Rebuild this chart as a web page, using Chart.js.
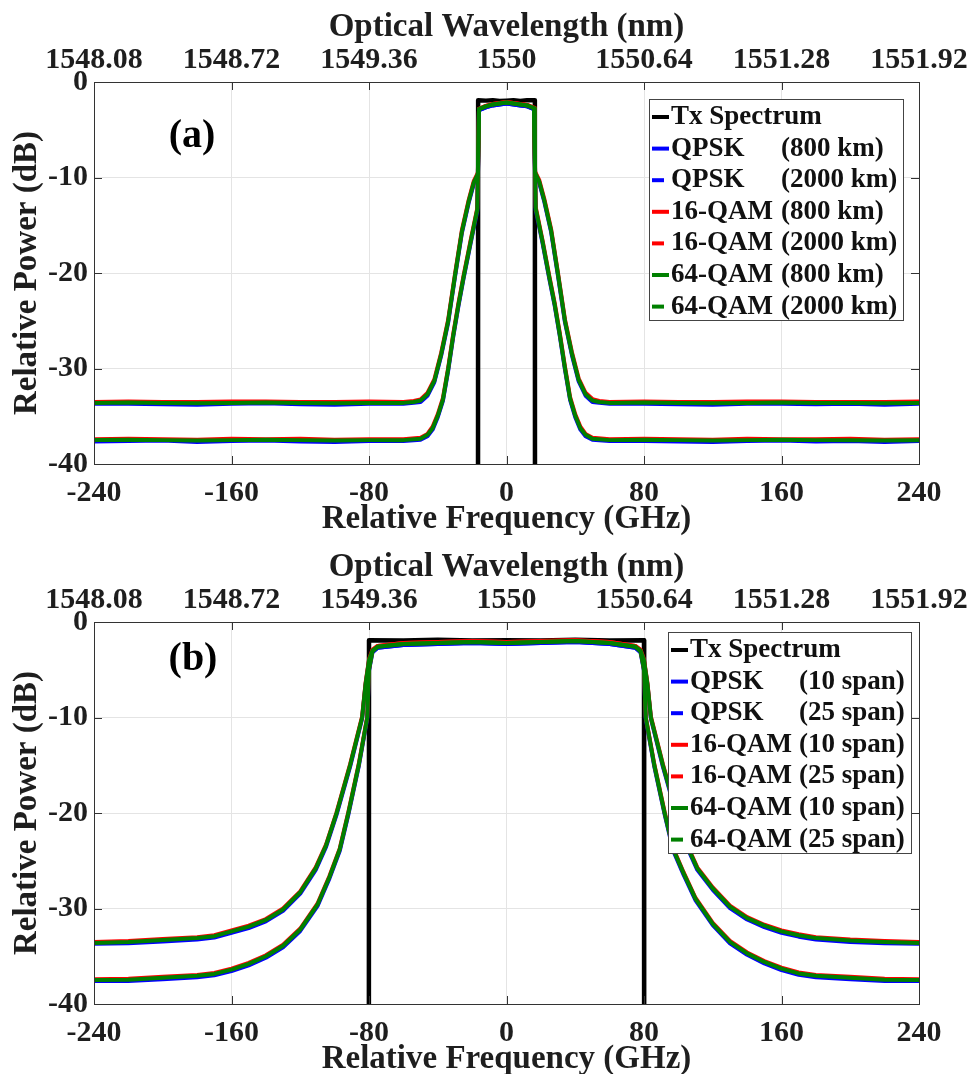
<!DOCTYPE html>
<html>
<head>
<meta charset="utf-8">
<title>Spektrum Optik</title>
<script src="https://cdn.jsdelivr.net/npm/chart.js@4.4.1/dist/chart.umd.min.js"></script>
<style>
  body { margin: 0; background: #fff; }
  .panel { position: relative; width: 972px; height: 537px; }
  canvas { display: block; }
</style>
</head>
<body>
<div class="panel"><canvas id="grafik-a" width="972" height="537"></canvas></div>
<div class="panel"><canvas id="grafik-b" width="972" height="537"></canvas></div>
<script>
// Label sumbu atas (panjang gelombang, nm)
const labelPanjangGelombang = ['1548.08', '1548.72', '1549.36', '1550', '1550.64', '1551.28', '1551.92'];

// Nama sinyal untuk legend
const namaSinyal = ['Tx Spectrum', 'QPSK', 'QPSK', '16-QAM', '16-QAM', '64-QAM', '64-QAM'];
const jarakA = ['', '(800 km)', '(2000 km)', '(800 km)', '(2000 km)', '(800 km)', '(2000 km)'];
const jarakB = ['', '(10 span)', '(25 span)', '(10 span)', '(25 span)', '(10 span)', '(25 span)'];

// ---- Panel (a) ----
const frekTxA = [-240, -16.6, -16.5, -12, -8, -4, 0, 4, 8, 12, 16.5, 16.6, 240];
const txA = [-60, -60, -1.9, -1.95, -1.9, -2.0, -1.95, -1.9, -2.0, -1.9, -1.9, -60, -60];

const frekA800 = [-240, -220, -200, -180, -160, -140, -120, -100, -80, -60,
  -50, -46, -43, -40, -37, -34, -31, -28, -25, -21,
  -17, -16.5, -16, -12, -8, -4, 0, 4, 8, 12,
  16, 16.5, 17, 21, 25, 28, 31, 34, 37, 40,
  43, 46, 50, 60, 80, 100, 120, 140, 160, 180,
  200, 220, 240];
const qpskA800 = [-37.65, -37.6, -37.55, -37.7, -37.6, -37.55, -37.65, -37.7, -37.6, -37.6,
  -37.45, -37.1, -36.4, -35.1, -33.4, -30.3, -26.7, -23.5, -20.6, -17.0,
  -13.5, -8.1, -2.95, -2.65, -2.45, -2.35, -2.25, -2.35, -2.45, -2.55,
  -2.85, -8.1, -13.4, -16.9, -20.7, -23.4, -26.6, -30.1, -33.3, -35.1,
  -36.4, -37.1, -37.45, -37.6, -37.6, -37.65, -37.7, -37.6, -37.55, -37.65,
  -37.6, -37.7, -37.6];
const qam16A800 = [-37.4, -37.35, -37.4, -37.45, -37.35, -37.4, -37.35, -37.45, -37.4, -37.4,
  -37.25, -36.85, -36.1, -34.8, -33.1, -30.0, -26.4, -23.2, -20.3, -16.7,
  -13.2, -7.9, -2.8, -2.5, -2.3, -2.2, -2.1, -2.2, -2.3, -2.4,
  -2.7, -7.9, -13.1, -16.6, -20.4, -23.1, -26.3, -29.8, -33.0, -34.8,
  -36.1, -36.85, -37.25, -37.4, -37.35, -37.4, -37.45, -37.35, -37.4, -37.4,
  -37.35, -37.45, -37.4];
const qam64A800 = [-37.5, -37.45, -37.5, -37.55, -37.5, -37.45, -37.5, -37.55, -37.5, -37.5,
  -37.35, -36.95, -36.25, -34.95, -33.25, -30.15, -26.55, -23.35, -20.45, -16.85,
  -13.35, -8.0, -2.85, -2.55, -2.35, -2.25, -2.15, -2.25, -2.35, -2.45,
  -2.75, -8.0, -13.25, -16.75, -20.55, -23.25, -26.45, -29.95, -33.15, -34.95,
  -36.25, -36.95, -37.35, -37.5, -37.45, -37.5, -37.55, -37.5, -37.45, -37.5,
  -37.5, -37.55, -37.5];

const frekA2000 = [-240, -220, -200, -180, -160, -140, -120, -100, -80, -60,
  -54, -50, -46, -42, -38, -34, -30, -26, -22, -19,
  -16.6, -16, -12, -8, -4, 0, 4, 8, 12, 16,
  16.6, 19, 22, 26, 30, 34, 38, 42, 46, 50,
  54, 60, 80, 100, 120, 140, 160, 180, 200, 220,
  240];
const qpskA2000 = [-33.7, -33.7, -33.75, -33.8, -33.7, -33.65, -33.75, -33.8, -33.7, -33.7,
  -33.6, -33.5, -32.85, -31.45, -28.65, -25.25, -20.45, -15.85, -12.65, -10.65,
  -9.7, -2.95, -2.65, -2.45, -2.35, -2.25, -2.35, -2.45, -2.55, -2.85,
  -9.6, -10.55, -12.55, -15.75, -20.35, -25.15, -28.55, -31.35, -32.85, -33.5,
  -33.6, -33.7, -33.7, -33.75, -33.8, -33.7, -33.7, -33.75, -33.7, -33.8,
  -33.7];
const qam16A2000 = [-33.5, -33.45, -33.5, -33.5, -33.45, -33.45, -33.5, -33.5, -33.45, -33.5,
  -33.4, -33.25, -32.55, -31.15, -28.35, -24.95, -20.15, -15.55, -12.35, -10.35,
  -9.5, -2.8, -2.5, -2.3, -2.2, -2.1, -2.2, -2.3, -2.4, -2.7,
  -9.4, -10.25, -12.25, -15.45, -20.05, -24.85, -28.25, -31.05, -32.55, -33.2,
  -33.4, -33.5, -33.45, -33.5, -33.5, -33.45, -33.45, -33.5, -33.5, -33.5,
  -33.45];
const qam64A2000 = [-33.6, -33.55, -33.6, -33.65, -33.6, -33.55, -33.6, -33.65, -33.6, -33.6,
  -33.5, -33.35, -32.7, -31.3, -28.5, -25.1, -20.3, -15.7, -12.5, -10.5,
  -9.6, -2.85, -2.55, -2.35, -2.25, -2.15, -2.25, -2.35, -2.45, -2.75,
  -9.5, -10.4, -12.4, -15.6, -20.2, -25.0, -28.4, -31.2, -32.7, -33.35,
  -33.5, -33.6, -33.55, -33.6, -33.65, -33.6, -33.55, -33.6, -33.6, -33.65,
  -33.6];

// ---- Panel (b) ----
const frekTxB = [-240, -80.1, -80, -60, -40, -20, 0, 20, 40, 60, 80, 80.1, 240];
const txB = [-60, -60, -1.9, -1.95, -1.85, -1.95, -1.9, -1.95, -1.85, -1.95, -1.9, -60, -60];

const frekB10 = [-240, -220, -200, -180, -170, -160, -150, -140, -130, -120,
  -110, -103, -97, -92, -86, -81, -80, -78, -75, -60,
  -40, -20, 0, 20, 40, 60, 75, 78, 80, 81,
  86, 92, 97, 103, 110, 120, 130, 140, 150, 160,
  170, 180, 200, 220, 240];
const qpskB10 = [-37.6, -37.6, -37.4, -37.2, -37.0, -36.55, -35.95, -35.15, -34.05, -32.35,
  -29.75, -26.85, -23.95, -20.15, -15.15, -10.1, -5.1, -3.2, -2.7, -2.4,
  -2.3, -2.2, -2.3, -2.2, -2.1, -2.3, -2.7, -3.2, -5.1, -10.1,
  -15.15, -20.15, -23.95, -26.45, -29.15, -31.75, -33.65, -34.85, -35.75, -36.45,
  -36.95, -37.2, -37.4, -37.6, -37.6];
const qam16B10 = [-37.4, -37.35, -37.15, -36.95, -36.75, -36.3, -35.7, -34.9, -33.8, -32.1,
  -29.5, -26.6, -23.7, -19.9, -14.9, -9.9, -4.9, -3.0, -2.5, -2.2,
  -2.1, -2.0, -2.1, -2.0, -1.9, -2.1, -2.5, -3.0, -4.9, -9.9,
  -14.9, -19.9, -23.7, -26.2, -28.9, -31.5, -33.4, -34.6, -35.5, -36.2,
  -36.7, -36.95, -37.15, -37.35, -37.4];
const qam64B10 = [-37.5, -37.45, -37.25, -37.05, -36.85, -36.4, -35.8, -35.0, -33.9, -32.2,
  -29.6, -26.7, -23.8, -20.0, -15.0, -10.0, -5.0, -3.1, -2.6, -2.3,
  -2.2, -2.1, -2.2, -2.1, -2.0, -2.2, -2.6, -3.1, -5.0, -10.0,
  -15.0, -20.0, -23.8, -26.3, -29.0, -31.6, -33.5, -34.7, -35.6, -36.3,
  -36.8, -37.05, -37.25, -37.45, -37.5];

const frekB25 = [-240, -220, -200, -180, -170, -160, -150, -140, -130, -120,
  -111, -105, -99, -91, -84, -82, -80, -78, -75, -60,
  -40, -20, 0, 20, 40, 60, 75, 78, 80, 82,
  84, 91, 99, 105, 111, 120, 130, 140, 150, 160,
  170, 180, 200, 220, 240];
const qpskB25 = [-33.7, -33.65, -33.45, -33.25, -33.05, -32.55, -32.05, -31.35, -30.25, -28.45,
  -25.95, -23.55, -20.25, -15.15, -10.1, -6.6, -4.1, -3.1, -2.7, -2.4,
  -2.3, -2.2, -2.3, -2.2, -2.1, -2.3, -2.7, -3.1, -4.1, -6.6,
  -10.1, -15.15, -20.25, -23.55, -25.95, -28.05, -29.95, -31.15, -31.95, -32.55,
  -32.95, -33.25, -33.5, -33.65, -33.7];
const qam16B25 = [-33.5, -33.4, -33.2, -33.0, -32.8, -32.3, -31.8, -31.1, -30.0, -28.2,
  -25.7, -23.3, -20.0, -14.9, -9.9, -6.4, -3.9, -2.9, -2.5, -2.2,
  -2.1, -2.0, -2.1, -2.0, -1.9, -2.1, -2.5, -2.9, -3.9, -6.4,
  -9.9, -14.9, -20.0, -23.3, -25.7, -27.8, -29.7, -30.9, -31.7, -32.3,
  -32.7, -33.0, -33.25, -33.4, -33.5];
const qam64B25 = [-33.6, -33.5, -33.3, -33.1, -32.9, -32.4, -31.9, -31.2, -30.1, -28.3,
  -25.8, -23.4, -20.1, -15.0, -10.0, -6.5, -4.0, -3.0, -2.6, -2.3,
  -2.2, -2.1, -2.2, -2.1, -2.0, -2.2, -2.6, -3.0, -4.0, -6.5,
  -10.0, -15.0, -20.1, -23.4, -25.8, -27.9, -29.8, -31.0, -31.8, -32.4,
  -32.8, -33.1, -33.35, -33.5, -33.6];

// Gaya garis (bukan data)
const warnaSinyal = ['#000000', '#0000ff', '#0000ff', '#ff0000', '#ff0000', '#008000', '#008000'];
const hurufSerif = '"Liberation Serif", "Times New Roman", serif';
const warnaTeks = '#1e1e1e';

function titik(frek, nilai) {
  return frek.map((f, i) => ({ x: f, y: nilai[i] }));
}

// Plugin untuk bingkai, tick di dalam, label panel dan legend
const pluginBingkai = {
  id: 'bingkai',
  afterDatasetsDraw(chart, args, opts) {
    const { ctx, chartArea: a, scales } = chart;
    ctx.save();
    ctx.strokeStyle = '#333';
    ctx.lineWidth = 1;
    const garis = (x1, y1, x2, y2) => {
      ctx.beginPath(); ctx.moveTo(x1, y1); ctx.lineTo(x2, y2); ctx.stroke();
    };
    scales.x.ticks.forEach((t) => {
      const px = Math.round(scales.x.getPixelForValue(t.value)) + 0.5;
      garis(px, a.bottom, px, a.bottom - 8);
      garis(px, a.top, px, a.top + 8);
    });
    scales.y.ticks.forEach((t) => {
      const py = Math.round(scales.y.getPixelForValue(t.value)) + 0.5;
      garis(a.left, py, a.left + 8, py);
      garis(a.right, py, a.right - 8, py);
    });
    ctx.strokeRect(Math.round(a.left) + 0.5, Math.round(a.top) + 0.5, Math.round(a.width), Math.round(a.height));

    // Label panel (a)/(b)
    ctx.fillStyle = '#000';
    ctx.font = 'bold 40px ' + hurufSerif;
    ctx.textAlign = 'center';
    ctx.textBaseline = 'middle';
    ctx.fillText(opts.panel, opts.panelX, opts.panelY);

    // Legend di dalam area plot
    const L = opts.legend;
    ctx.fillStyle = '#fff';
    ctx.fillRect(L.x, L.y, L.w, L.h);
    ctx.strokeStyle = '#444';
    ctx.strokeRect(L.x + 0.5, L.y + 0.5, L.w, L.h);
    ctx.font = 'bold 27px ' + hurufSerif;
    ctx.textAlign = 'left';
    chart.data.datasets.forEach((ds, i) => {
      const y = L.y + 18 + i * L.jarak;
      ctx.strokeStyle = ds.borderColor;
      ctx.lineWidth = 4;
      const panjang = (i > 0 && i % 2 === 0) ? 12 : 17;
      garis(L.x + 3, y, L.x + 3 + panjang, y);
      ctx.fillStyle = '#111';
      ctx.fillText(ds.nama, L.x + 22, y);
      if (ds.jarakTeks) ctx.fillText(ds.jarakTeks, L.x + L.kolom, y);
    });
    ctx.restore();
  }
};

function buatGrafik(idCanvas, seri, jarak, atur) {
  const canvas = document.getElementById(idCanvas);
  if (!canvas) {
    console.error('Canvas tidak ditemukan:', idCanvas);
    return;
  }
  const datasets = seri.map((s, i) => ({
    label: namaSinyal[i] + ' ' + jarak[i],
    nama: namaSinyal[i],
    jarakTeks: jarak[i],
    data: titik(s[0], s[1]),
    borderColor: warnaSinyal[i],
    backgroundColor: warnaSinyal[i],
    borderWidth: i === 0 ? 4.5 : 4,
    pointRadius: 0,
    tension: 0,
    fill: false,
    borderJoinStyle: 'round',
    order: 7 - i
  }));

  const fontTick = { family: hurufSerif, weight: 'bold', size: 30 };
  const fontJudul = { family: hurufSerif, weight: 'bold', size: 33 };
  const warnaGrid = '#e4e4e4';

  new Chart(canvas.getContext('2d'), {
    type: 'line',
    data: { datasets: datasets },
    options: {
      responsive: false,
      animation: false,
      events: [],
      layout: { padding: { left: 0, right: 53, top: 0, bottom: 0 } },
      plugins: {
        legend: { display: false },
        tooltip: { enabled: false },
        bingkai: atur
      },
      scales: {
        x: {
          type: 'linear', position: 'bottom', min: -240, max: 240,
          ticks: { stepSize: 80, padding: 11, autoSkip: false, maxRotation: 0, color: warnaTeks, font: fontTick },
          grid: { color: warnaGrid, drawTicks: false },
          border: { display: false },
          title: { display: true, text: 'Relative Frequency (GHz)', color: warnaTeks, font: fontJudul, padding: { top: 0, bottom: atur.judulBawah } },
          afterFit: (s) => { s.height = atur.tinggiBawah; }
        },
        x2: {
          type: 'linear', position: 'top', min: -240, max: 240,
          ticks: {
            stepSize: 80, padding: 4, autoSkip: false, maxRotation: 0, color: warnaTeks, font: fontTick,
            callback: (v) => labelPanjangGelombang[Math.round((v + 240) / 80)]
          },
          grid: { display: false, drawTicks: false },
          border: { display: false },
          title: { display: true, text: 'Optical Wavelength (nm)', color: warnaTeks, font: fontJudul, padding: { top: atur.judulAtas, bottom: 0 } },
          afterFit: (s) => { s.height = atur.tinggiAtas; }
        },
        y: {
          min: -40, max: 0,
          ticks: { stepSize: 10, padding: 6, color: warnaTeks, font: fontTick },
          grid: { color: warnaGrid, drawTicks: false },
          border: { display: false },
          title: { display: true, text: 'Relative Power (dB)', color: warnaTeks, font: fontJudul, padding: { top: 8, bottom: 0 } },
          afterFit: (s) => { s.width = 94; }
        }
      }
    },
    plugins: [pluginBingkai]
  });
}

document.addEventListener('DOMContentLoaded', () => {
  try {
    buatGrafik('grafik-a', [
      [frekTxA, txA], [frekA800, qpskA800], [frekA2000, qpskA2000],
      [frekA800, qam16A800], [frekA2000, qam16A2000],
      [frekA800, qam64A800], [frekA2000, qam64A2000]
    ], jarakA, {
      panel: '(a)', panelX: 192, panelY: 137,
      legend: { x: 649, y: 99, w: 254, h: 221, jarak: 31.6, kolom: 132 },
      tinggiAtas: 82, tinggiBawah: 73, judulAtas: 8, judulBawah: -2
    });
    buatGrafik('grafik-b', [
      [frekTxB, txB], [frekB10, qpskB10], [frekB25, qpskB25],
      [frekB10, qam16B10], [frekB25, qam16B25],
      [frekB10, qam64B10], [frekB25, qam64B25]
    ], jarakB, {
      panel: '(b)', panelX: 193, panelY: 123,
      legend: { x: 668, y: 95, w: 243, h: 221, jarak: 31.6, kolom: 131 },
      tinggiAtas: 85, tinggiBawah: 70, judulAtas: 11, judulBawah: -5
    });
  } catch (error) {
    console.error('Terjadi kesalahan saat membuat grafik:', error);
  }
});
</script>
</body>
</html>
